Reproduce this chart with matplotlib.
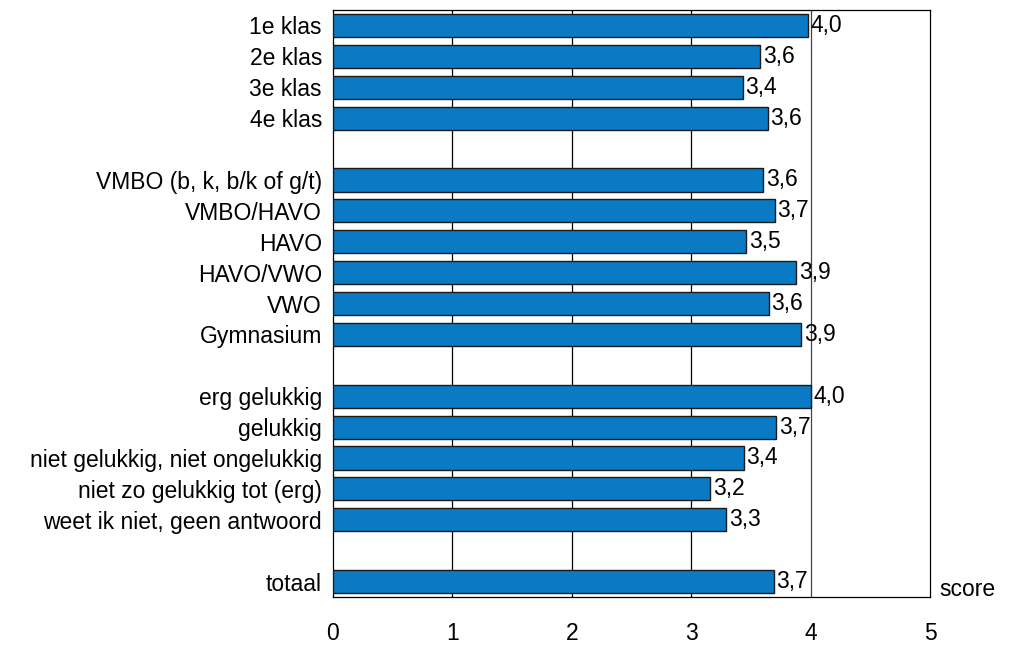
import numpy as np
import matplotlib.pyplot as plt

# rows top to bottom, None = empty spacer row
categories = ['1e klas', '2e klas', '3e klas', '4e klas', None,
              'VMBO (b, k, b/k of g/t)', 'VMBO/HAVO', 'HAVO', 'HAVO/VWO', 'VWO', 'Gymnasium', None,
              'erg gelukkig', 'gelukkig', 'niet gelukkig, niet ongelukkig',
              'niet zo gelukkig tot (erg)', 'weet ik niet, geen antwoord', None,
              'totaal']
scores = [3.98, 3.58, 3.43, 3.64, None,
          3.60, 3.70, 3.46, 3.88, 3.65, 3.92, None,
          4.00, 3.71, 3.44, 3.16, 3.29, None,
          3.69]
value_labels = ['4,0', '3,6', '3,4', '3,6', None,
                '3,6', '3,7', '3,5', '3,9', '3,6', '3,9', None,
                '4,0', '3,7', '3,4', '3,2', '3,3', None,
                '3,7']
xticks = [0, 1, 2, 3, 4, 5]

plt.rcParams['font.family'] = ['Liberation Sans', 'DejaVu Sans']
fs = 16.5

fig = plt.figure(figsize=(10.1, 6.45), dpi=100)
ax = fig.add_axes([0.3297, 0.0744, 0.5911, 0.9101])

rows = [i for i, c in enumerate(categories) if c is not None]
vals = [scores[i] for i in rows]
ax.barh(rows, vals, height=0.75, color='#0a7ac4', edgecolor='#1a1a1a',
        linewidth=1.0, zorder=3)

for i in rows:
    ax.annotate(value_labels[i], (scores[i], i), xytext=(2, 0),
                textcoords='offset points', va='center', ha='left',
                fontsize=fs, zorder=4)

for x in xticks[1:-1]:
    ax.axvline(x, color='black' if x < 4 else '#444444', linewidth=0.9, zorder=1)

ax.set_xlim(0, 5)
ax.set_ylim(len(categories) - 0.5, -0.5)
ax.set_yticks(rows)
ax.set_yticklabels([categories[i] for i in rows], fontsize=fs)
ax.set_xticks(xticks)
ax.set_xticklabels([str(x) for x in xticks], fontsize=fs)
ax.tick_params(axis='both', length=0)
ax.tick_params(axis='x', pad=18)
ax.tick_params(axis='y', pad=8)
for s in ax.spines.values():
    s.set_linewidth(0.9)
    s.set_color('black')

fig.text(0.930, 0.068, 'score', fontsize=fs, ha='left', va='bottom')

fig.savefig('out.png', dpi=100)
